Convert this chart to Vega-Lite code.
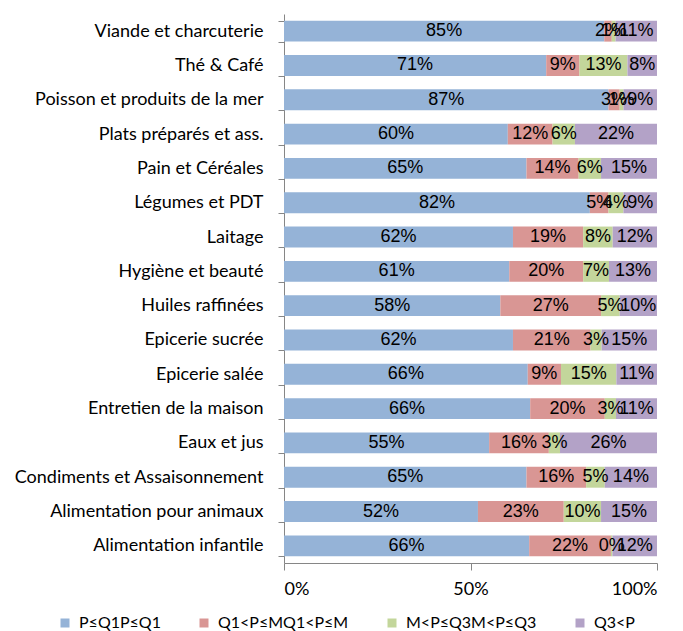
{
  "$schema": "https://vega.github.io/schema/vega-lite/v6.json",
  "width": 373,
  "height": 549,
  "autosize": "none",
  "padding": {"left": 284, "top": 14, "right": 26, "bottom": 68},
  "config": {"view": {"stroke": null}, "font": "Lato"},
  "data": {"values": [
    {"c": "Viande et charcuterie", "s": "P≤Q1P≤Q1", "k": 1, "v": 0.85},
    {"c": "Viande et charcuterie", "s": "Q1<P≤MQ1<P≤M", "k": 2, "v": 0.02},
    {"c": "Viande et charcuterie", "s": "M<P≤Q3M<P≤Q3", "k": 3, "v": 0.01},
    {"c": "Viande et charcuterie", "s": "Q3<P", "k": 4, "v": 0.11},
    {"c": "Thé & Café", "s": "P≤Q1P≤Q1", "k": 1, "v": 0.71},
    {"c": "Thé & Café", "s": "Q1<P≤MQ1<P≤M", "k": 2, "v": 0.09},
    {"c": "Thé & Café", "s": "M<P≤Q3M<P≤Q3", "k": 3, "v": 0.13},
    {"c": "Thé & Café", "s": "Q3<P", "k": 4, "v": 0.08},
    {"c": "Poisson et produits de la mer", "s": "P≤Q1P≤Q1", "k": 1, "v": 0.87},
    {"c": "Poisson et produits de la mer", "s": "Q1<P≤MQ1<P≤M", "k": 2, "v": 0.03},
    {"c": "Poisson et produits de la mer", "s": "M<P≤Q3M<P≤Q3", "k": 3, "v": 0.01},
    {"c": "Poisson et produits de la mer", "s": "Q3<P", "k": 4, "v": 0.09},
    {"c": "Plats préparés et ass.", "s": "P≤Q1P≤Q1", "k": 1, "v": 0.60},
    {"c": "Plats préparés et ass.", "s": "Q1<P≤MQ1<P≤M", "k": 2, "v": 0.12},
    {"c": "Plats préparés et ass.", "s": "M<P≤Q3M<P≤Q3", "k": 3, "v": 0.06},
    {"c": "Plats préparés et ass.", "s": "Q3<P", "k": 4, "v": 0.22},
    {"c": "Pain et Céréales", "s": "P≤Q1P≤Q1", "k": 1, "v": 0.65},
    {"c": "Pain et Céréales", "s": "Q1<P≤MQ1<P≤M", "k": 2, "v": 0.14},
    {"c": "Pain et Céréales", "s": "M<P≤Q3M<P≤Q3", "k": 3, "v": 0.06},
    {"c": "Pain et Céréales", "s": "Q3<P", "k": 4, "v": 0.15},
    {"c": "Légumes et PDT", "s": "P≤Q1P≤Q1", "k": 1, "v": 0.82},
    {"c": "Légumes et PDT", "s": "Q1<P≤MQ1<P≤M", "k": 2, "v": 0.05},
    {"c": "Légumes et PDT", "s": "M<P≤Q3M<P≤Q3", "k": 3, "v": 0.04},
    {"c": "Légumes et PDT", "s": "Q3<P", "k": 4, "v": 0.09},
    {"c": "Laitage", "s": "P≤Q1P≤Q1", "k": 1, "v": 0.62},
    {"c": "Laitage", "s": "Q1<P≤MQ1<P≤M", "k": 2, "v": 0.19},
    {"c": "Laitage", "s": "M<P≤Q3M<P≤Q3", "k": 3, "v": 0.08},
    {"c": "Laitage", "s": "Q3<P", "k": 4, "v": 0.12},
    {"c": "Hygiène et beauté", "s": "P≤Q1P≤Q1", "k": 1, "v": 0.61},
    {"c": "Hygiène et beauté", "s": "Q1<P≤MQ1<P≤M", "k": 2, "v": 0.20},
    {"c": "Hygiène et beauté", "s": "M<P≤Q3M<P≤Q3", "k": 3, "v": 0.07},
    {"c": "Hygiène et beauté", "s": "Q3<P", "k": 4, "v": 0.13},
    {"c": "Huiles raffinées", "s": "P≤Q1P≤Q1", "k": 1, "v": 0.58},
    {"c": "Huiles raffinées", "s": "Q1<P≤MQ1<P≤M", "k": 2, "v": 0.27},
    {"c": "Huiles raffinées", "s": "M<P≤Q3M<P≤Q3", "k": 3, "v": 0.05},
    {"c": "Huiles raffinées", "s": "Q3<P", "k": 4, "v": 0.10},
    {"c": "Epicerie sucrée", "s": "P≤Q1P≤Q1", "k": 1, "v": 0.62},
    {"c": "Epicerie sucrée", "s": "Q1<P≤MQ1<P≤M", "k": 2, "v": 0.21},
    {"c": "Epicerie sucrée", "s": "M<P≤Q3M<P≤Q3", "k": 3, "v": 0.03},
    {"c": "Epicerie sucrée", "s": "Q3<P", "k": 4, "v": 0.15},
    {"c": "Epicerie salée", "s": "P≤Q1P≤Q1", "k": 1, "v": 0.66},
    {"c": "Epicerie salée", "s": "Q1<P≤MQ1<P≤M", "k": 2, "v": 0.09},
    {"c": "Epicerie salée", "s": "M<P≤Q3M<P≤Q3", "k": 3, "v": 0.15},
    {"c": "Epicerie salée", "s": "Q3<P", "k": 4, "v": 0.11},
    {"c": "Entretien de la maison", "s": "P≤Q1P≤Q1", "k": 1, "v": 0.66},
    {"c": "Entretien de la maison", "s": "Q1<P≤MQ1<P≤M", "k": 2, "v": 0.20},
    {"c": "Entretien de la maison", "s": "M<P≤Q3M<P≤Q3", "k": 3, "v": 0.03},
    {"c": "Entretien de la maison", "s": "Q3<P", "k": 4, "v": 0.11},
    {"c": "Eaux et jus", "s": "P≤Q1P≤Q1", "k": 1, "v": 0.55},
    {"c": "Eaux et jus", "s": "Q1<P≤MQ1<P≤M", "k": 2, "v": 0.16},
    {"c": "Eaux et jus", "s": "M<P≤Q3M<P≤Q3", "k": 3, "v": 0.03},
    {"c": "Eaux et jus", "s": "Q3<P", "k": 4, "v": 0.26},
    {"c": "Condiments et Assaisonnement", "s": "P≤Q1P≤Q1", "k": 1, "v": 0.65},
    {"c": "Condiments et Assaisonnement", "s": "Q1<P≤MQ1<P≤M", "k": 2, "v": 0.16},
    {"c": "Condiments et Assaisonnement", "s": "M<P≤Q3M<P≤Q3", "k": 3, "v": 0.05},
    {"c": "Condiments et Assaisonnement", "s": "Q3<P", "k": 4, "v": 0.14},
    {"c": "Alimentation pour animaux", "s": "P≤Q1P≤Q1", "k": 1, "v": 0.52},
    {"c": "Alimentation pour animaux", "s": "Q1<P≤MQ1<P≤M", "k": 2, "v": 0.23},
    {"c": "Alimentation pour animaux", "s": "M<P≤Q3M<P≤Q3", "k": 3, "v": 0.10},
    {"c": "Alimentation pour animaux", "s": "Q3<P", "k": 4, "v": 0.15},
    {"c": "Alimentation infantile", "s": "P≤Q1P≤Q1", "k": 1, "v": 0.66},
    {"c": "Alimentation infantile", "s": "Q1<P≤MQ1<P≤M", "k": 2, "v": 0.22},
    {"c": "Alimentation infantile", "s": "M<P≤Q3M<P≤Q3", "k": 3, "v": 0.004},
    {"c": "Alimentation infantile", "s": "Q3<P", "k": 4, "v": 0.12}
  ]},
  "encoding": {
    "y": {
      "field": "c",
      "type": "nominal",
      "title": null,
      "sort": ["Viande et charcuterie", "Thé & Café", "Poisson et produits de la mer", "Plats préparés et ass.", "Pain et Céréales", "Légumes et PDT", "Laitage", "Hygiène et beauté", "Huiles raffinées", "Epicerie sucrée", "Epicerie salée", "Entretien de la maison", "Eaux et jus", "Condiments et Assaisonnement", "Alimentation pour animaux", "Alimentation infantile"],
      "scale": {"paddingInner": 0.39, "paddingOuter": 0.195},
      "axis": {
        "grid": false,
        "domainColor": "#868686",
        "tickColor": "#868686",
        "tickBand": "extent",
        "tickSize": 6,
        "labelFont": "Lato",
        "labelFontSize": 18,
        "labelColor": "#000000",
        "labelPadding": 15,
        "labelLimit": 0
      }
    }
  },
  "layer": [
    {
      "mark": {"type": "bar"},
      "encoding": {
        "x": {
          "field": "v",
          "type": "quantitative",
          "stack": "normalize",
          "title": null,
          "scale": {"domain": [0, 1]},
          "axis": {
            "values": [0, 0.5, 1],
            "format": ".0%",
            "grid": false,
            "tickSize": 7,
            "domainColor": "#868686",
            "tickColor": "#868686",
            "labelFont": "Lato",
            "labelFontSize": 18,
            "labelColor": "#000000",
            "labelPadding": 10
          }
        },
        "color": {
          "field": "s",
          "type": "nominal",
          "scale": {
            "domain": ["P≤Q1P≤Q1", "Q1<P≤MQ1<P≤M", "M<P≤Q3M<P≤Q3", "Q3<P"],
            "range": ["#95B3D7", "#D99694", "#C3D69B", "#B3A2C7"]
          },
          "legend": {
            "orient": "none",
            "direction": "horizontal",
            "legendX": -227,
            "legendY": 601,
            "title": null,
            "symbolType": "square",
            "symbolSize": 81,
            "symbolStrokeWidth": 0,
            "labelFont": "Lato",
            "labelFontSize": 16,
            "labelColor": "#000000",
            "labelOffset": 6,
            "labelLimit": 0,
            "columnPadding": 35
          }
        },
        "order": {"field": "k", "type": "quantitative"}
      }
    },
    {
      "transform": [
        {"stack": "v", "groupby": ["c"], "sort": [{"field": "k", "order": "ascending"}], "offset": "normalize", "as": ["x0", "x1"]},
        {"fold": ["x0", "x1"], "as": ["edge", "pos"]},
        {"aggregate": [{"op": "mean", "field": "pos", "as": "mid"}], "groupby": ["c", "s", "v"]}
      ],
      "mark": {"type": "text", "font": "Liberation Sans", "fontSize": 18, "color": "#000000"},
      "encoding": {
        "x": {"field": "mid", "type": "quantitative", "title": null},
        "text": {"field": "v", "type": "quantitative", "format": ".0%"}
      }
    }
  ]
}
